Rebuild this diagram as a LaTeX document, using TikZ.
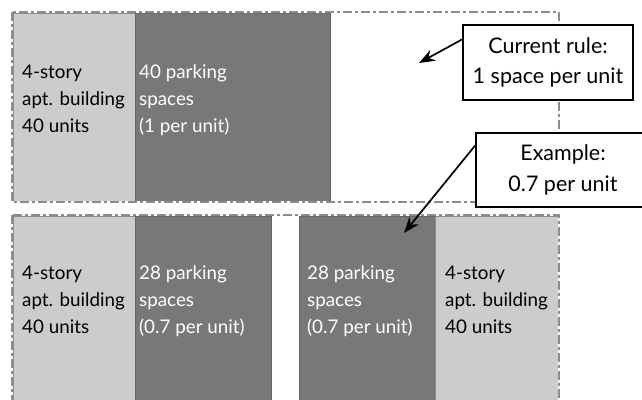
\documentclass[tikz,border=0pt]{standalone}
\usepackage{fontspec}
\setmainfont{Lato}
\usetikzlibrary{arrows.meta,calc}
\definecolor{lightfill}{RGB}{204,204,204}
\definecolor{darkfill}{RGB}{120,120,120}
\definecolor{bordergray}{RGB}{140,140,140}
\tikzset{
  lightbox/.style={fill=lightfill,draw=bordergray,line width=0.8pt},
  darkbox/.style={fill=darkfill,draw=darkfill!85!black,line width=0.8pt},
  borderunder/.style={draw=white,line width=2.2pt},
  borderline/.style={draw=bordergray,line width=2pt,dash pattern=on 9pt off 3pt on 3pt off 3pt},
  blocktext/.style={anchor=base west,inner sep=0pt,align=left,font=\fontsize{18.8}{27}\selectfont},
  darktext/.style={blocktext,text=white},
  calloutbox/.style={draw=black,line width=1.4pt,fill=white,align=center,
     font=\fontsize{21.5}{30.5}\selectfont,inner sep=0pt},
  pointer/.style={draw=black,line width=1.7pt,-{Stealth[length=16pt,width=12pt]}}
}
\begin{document}
\begin{tikzpicture}[x=1pt,y=-1pt]
\clip (0,0) rectangle (642,399);
\fill[white] (0,0) rectangle (642,399);
% top group
\path[lightbox] (13,13) rectangle (135,201);
\path[darkbox] (135,13) rectangle (330,201);
\path[borderunder] (12,12) rectangle (559,202);
\path[borderline] (12,12) rectangle (559,202);
% bottom group
\path[lightbox] (13,216) rectangle (135,410);
\path[darkbox] (135,216) rectangle (271,410);
\path[darkbox] (299,216) rectangle (435,410);
\path[lightbox] (435,216) rectangle (559,410);
\path[borderunder] (12,215) rectangle (559,420);
\path[borderline] (12,215) rectangle (559,420);
% texts (anchor at baseline of last line)
\node[blocktext] (t1) at (22,132) {4-story\\apt. building\\40 units};
\node[darktext] (t2) at (139,132) {40 parking\\spaces\\(1 per unit)};
\node[blocktext] (b1) at (22,333) {4-story\\apt. building\\40 units};
\node[darktext] (b2) at (139,333) {28 parking\\spaces\\(0.7 per unit)};
\node[darktext] (b3) at (307,333) {28 parking\\spaces\\(0.7 per unit)};
\node[blocktext] (b4) at (445,333) {4-story\\apt. building\\40 units};
% callouts
\node[calloutbox,minimum width=170pt,minimum height=75pt] (cur) at (548,62.5) {Current rule:\\1 space per unit};
\node[calloutbox,minimum width=174pt,minimum height=74pt] (ex) at (563,170) {Example:\\0.7 per unit};
\coordinate (tip1) at (419,63);
\coordinate (tip2) at (404,233);
\draw[pointer] ($(cur.north west)+(0,15)$) -- (tip1);
\draw[pointer] ($(ex.north west)+(0,13)$) -- (tip2);
\end{tikzpicture}
\end{document}
